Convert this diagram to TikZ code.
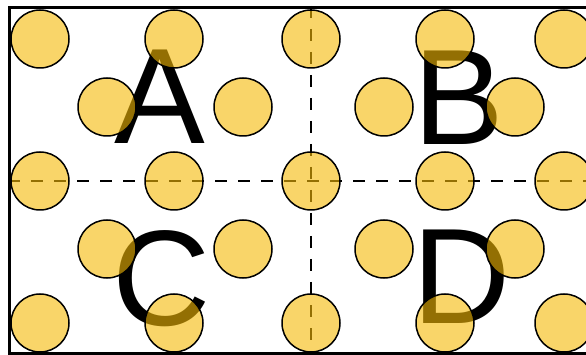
\documentclass[tikz,border=0pt]{standalone}
\usepackage{fontspec}
\setmainfont{Liberation Sans}
\definecolor{dotyellow}{RGB}{245,185,5}
\begin{document}
\begin{tikzpicture}[x=1pt,y=-1pt,
  dot/.style={circle,minimum size=58pt,inner sep=0pt,draw=black,line width=1.5pt,fill=dotyellow,fill opacity=0.6,draw opacity=1},
  letter/.style={anchor=base,inner sep=0pt,font=\fontsize{136}{136}\selectfont},
  guide/.style={line width=2.8pt,dash pattern=on 12pt off 11pt}]
\useasboundingbox (0,0) rectangle (586,355);
\clip (0,0) rectangle (586,355);
\fill[white] (0,0) rectangle (586,355);
% guide end points
\coordinate (hl) at (8,181);
\coordinate (hr) at (590,181);
\coordinate (vt) at (311,6);
\coordinate (vb) at (311,352);
\draw[guide] (hl) -- (hr);
\draw[guide] (vt) -- (vb);
% letters
\node[letter] (A) at (160,144) {A};
\node[letter] (B) at (459,145) {B};
\node[letter] (C) at (162,325) {C};
\node[letter] (D) at (462,323) {D};
% circles, rows 1,3,5
\foreach \y/\r in {39/1,181/3,323/5}{
  \foreach \x/\c in {40/1,174/2,311/3,445/4,564/5}{
    \node[dot] (p\r\c) at (\x,\y) {};
  }
}
% circles, rows 2,4
\foreach \y/\r in {107/2,249/4}{
  \foreach \x/\c in {107/1,243/2,384/3,515/4}{
    \node[dot] (p\r\c) at (\x,\y) {};
  }
}
% border
\node[draw=black,line width=2.8pt,inner sep=0pt,minimum width=584pt,minimum height=346pt,anchor=north west] (frame) at (8,6) {};
\end{tikzpicture}
\end{document}
